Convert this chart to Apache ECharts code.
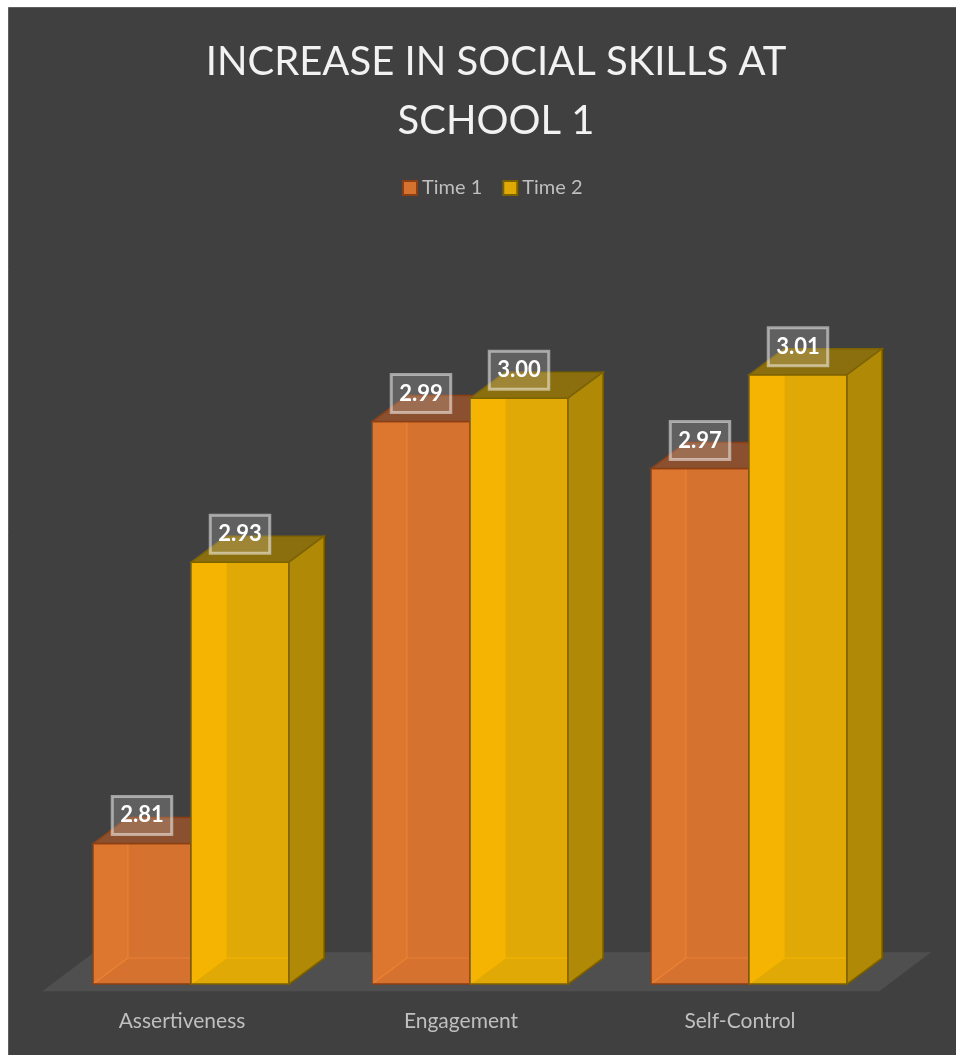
<!DOCTYPE html>
<html>
<head>
<meta charset="utf-8">
<script src="https://cdn.jsdelivr.net/npm/echarts@6/dist/echarts.min.js"></script>
<style>
  html, body { margin: 0; padding: 0; background: #ffffff; }
  #chart { width: 956px; height: 1055px; }
</style>
</head>
<body>
<div id="chart"></div>
<script>
// Social skills scores per category, measured at two points in time
const categories = ['Assertiveness', 'Engagement', 'Self-Control'];
const time1 = [2.81, 2.99, 2.97];
const time2 = [2.93, 3.00, 3.01];
const seriesNames = ['Time 1', 'Time 2'];

const AXIS_MIN = 2.75;
const AXIS_MAX = 3.05;
const FONT = 'Lato, "Open Sans", sans-serif';

// face colours for the two pseudo-3D column sets
const palette = [
  { front: '#D6722F', strip: 'rgba(236,128,52,0.35)', inner: 'rgba(240,135,55,0.75)',
    top: '#8A5030', side: '#A85A26', edge: '#8C3F12' },
  { front: '#E1A906', strip: 'rgba(250,184,0,0.75)', inner: 'rgba(247,182,0,0.9)',
    top: '#8B6E0E', side: '#B08906', edge: '#7D6200' }
];

function columnRenderer(slot) {
  const c = palette[slot];
  return function (params, api) {
    const cat = api.value(0);
    const val = api.value(1);
    const topPt = api.coord([cat, val]);
    const basePt = api.coord([cat, AXIS_MIN]);
    const band = api.size([1, 0])[0];
    const barW = band * 0.3513;
    const dx = band * 0.1254;
    const dy = -dx * 26 / 35;
    const x0 = slot === 0 ? topPt[0] - barW : topPt[0];
    const x1 = x0 + barW;
    const yT = topPt[1];
    const yB = basePt[1];
    const edge = { stroke: c.edge, lineWidth: 1.5 };
    const children = [
      // front face
      { type: 'rect', shape: { x: x0, y: yT, width: barW, height: yB - yT },
        style: { fill: c.front } },
      // inner left face seen through the translucent front
      { type: 'polygon', shape: { points: [[x0, yT], [x0 + dx, yT], [x0 + dx, yB + dy], [x0, yB]] },
        style: { fill: c.strip } },
      // hidden back edges
      { type: 'polyline', shape: { points: [[x0 + dx, yT], [x0 + dx, yB + dy], [x1, yB + dy]] },
        style: { stroke: c.inner, lineWidth: 1.2, fill: null } },
      { type: 'line', shape: { x1: x0, y1: yB, x2: x0 + dx, y2: yB + dy },
        style: { stroke: c.inner, lineWidth: 1.2 } },
      // front outline
      { type: 'rect', shape: { x: x0, y: yT, width: barW, height: yB - yT },
        style: Object.assign({ fill: null }, edge) },
      // top face
      { type: 'polygon', shape: { points: [[x0, yT], [x1, yT], [x1 + dx, yT + dy], [x0 + dx, yT + dy]] },
        style: Object.assign({ fill: c.top }, edge) },
      // right side face
      { type: 'polygon', shape: { points: [[x1, yT], [x1 + dx, yT + dy], [x1 + dx, yB + dy], [x1, yB]] },
        style: Object.assign({ fill: c.side }, edge) },
      // value label
      { type: 'text', z2: 100,
        style: {
          x: (x0 + x1) / 2, y: yT - 9,
          text: val.toFixed(2),
          align: 'center', verticalAlign: 'bottom',
          fill: '#ffffff', fontSize: 22, fontWeight: 'bold', fontFamily: FONT,
          lineHeight: 24,
          backgroundColor: 'rgba(255,255,255,0.17)',
          borderColor: 'rgba(255,255,255,0.5)', borderWidth: 1.5,
          padding: [7, 8, 7, 8]
        } }
    ];
    return { type: 'group', children: children };
  };
}

// floor plane under the columns, derived from the plot rectangle
function floorRenderer(params, api) {
  const cs = params.coordSys;
  const band = api.size([1, 0])[0];
  const shift = band * 0.033;
  const depthX = band * 0.186;
  const depthY = depthX * 39 / 52;
  const yF = cs.y + cs.height + shift * 7 / 9;
  const xl = cs.x - shift;
  const xr = cs.x + cs.width - shift;
  return {
    type: 'polygon',
    shape: { points: [[xl, yF], [xr, yF], [xr + depthX, yF - depthY], [xl + depthX, yF - depthY]] },
    style: { fill: '#504F50' }
  };
}

const chart = echarts.init(document.getElementById('chart'), null, { renderer: 'canvas' });

chart.setOption({
  backgroundColor: '#ffffff',
  animation: false,
  graphic: [
    { type: 'rect', z: -10, shape: { x: 8.5, y: 7.5, width: 960, height: 1060 },
      style: { fill: '#404040', stroke: '#5f5f5f', lineWidth: 1 } }
  ],
  title: {
    text: 'INCREASE IN SOCIAL SKILLS AT\nSCHOOL 1',
    left: 491, top: 28, textAlign: 'center',
    textStyle: { color: '#f2f2f2', fontSize: 40, fontWeight: 'normal', fontFamily: FONT, lineHeight: 59 }
  },
  legend: {
    data: seriesNames,
    left: 397, top: 173,
    icon: 'rect', itemWidth: 14, itemHeight: 14, itemGap: 20,
    textStyle: { color: '#bfbfbf', fontSize: 20, fontFamily: FONT }
  },
  grid: { left: 51.5, width: 837, top: 281, height: 703 },
  xAxis: {
    type: 'category',
    data: categories,
    axisLine: { show: false }, axisTick: { show: false }, splitLine: { show: false },
    axisLabel: { color: '#bfbfbf', fontSize: 21, fontFamily: FONT, margin: 27, padding: [0, 18, 0, 0] }
  },
  yAxis: { type: 'value', min: AXIS_MIN, max: AXIS_MAX, show: false },
  series: [
    { type: 'custom', name: 'floor', renderItem: floorRenderer, data: [[0, AXIS_MIN]], silent: true, z: 1 },
    { type: 'custom', name: seriesNames[0], renderItem: columnRenderer(0), z: 2,
      itemStyle: { color: palette[0].front, borderColor: palette[0].edge, borderWidth: 2 },
      data: categories.map((c, i) => [i, time1[i]]) },
    { type: 'custom', name: seriesNames[1], renderItem: columnRenderer(1), z: 3,
      itemStyle: { color: palette[1].front, borderColor: palette[1].edge, borderWidth: 2 },
      data: categories.map((c, i) => [i, time2[i]]) }
  ]
});
</script>
</body>
</html>
